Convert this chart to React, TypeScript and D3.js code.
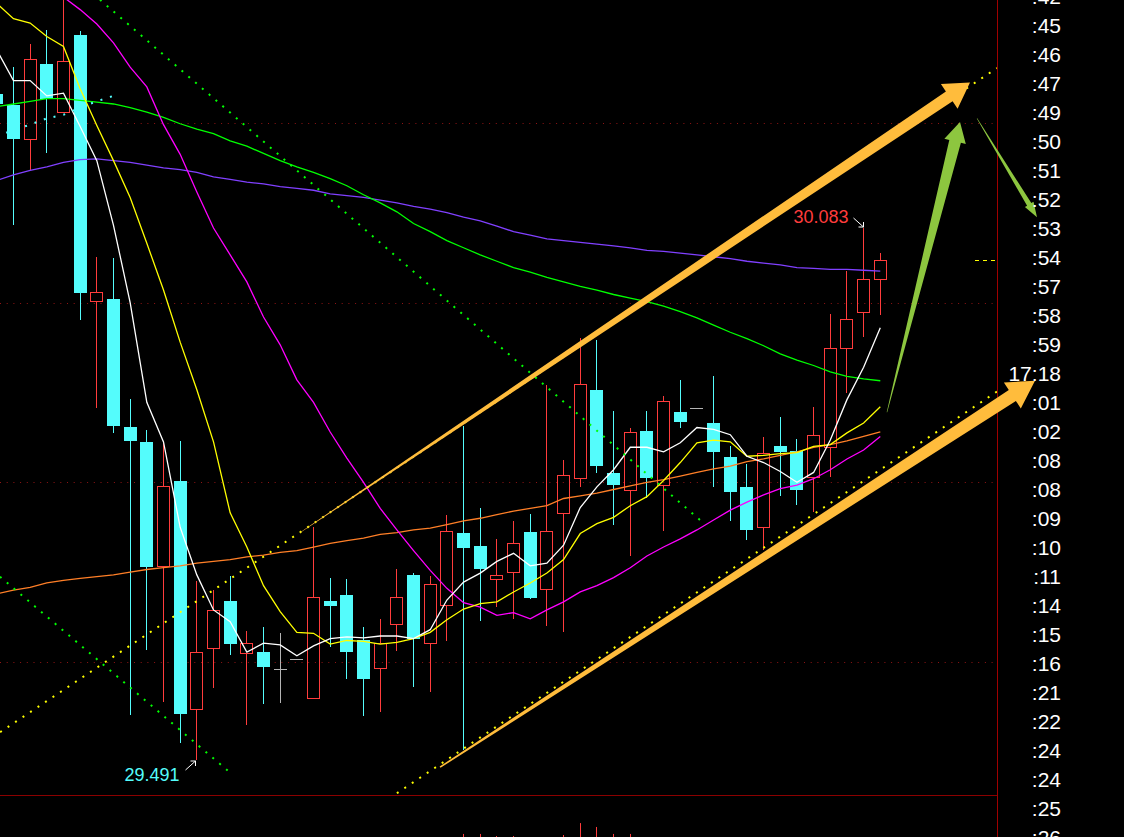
import React from 'react';
import * as d3 from 'd3';

const W = 1124;
const H = 837;

// ---- candle data (price) ----
const opens = [30.232,30.220,30.181,30.266,30.211,30.298,30.001,30.004,29.862,29.845,29.706,29.801,29.547,29.614,29.668,29.609,29.611,29.592,29.603,29.559,29.668,29.675,29.625,29.592,29.641,29.697,29.620,29.662,29.744,29.729,29.691,29.699,29.745,29.680,29.765,29.804,29.903,29.810,29.790,29.857,29.796,29.878,29.883,29.866,29.828,29.795,29.749,29.840,29.835,29.805,29.838,29.948,29.988,30.025];
const highs = [30.239,30.262,30.288,30.303,30.343,30.302,30.051,30.050,29.893,29.858,29.846,29.846,29.690,29.680,29.696,29.635,29.639,29.632,29.603,29.750,29.694,29.692,29.639,29.648,29.704,29.699,29.696,29.764,29.863,29.771,29.737,29.757,29.765,29.908,29.825,29.961,29.958,29.879,29.860,29.879,29.896,29.914,29.883,29.918,29.840,29.820,29.850,29.873,29.848,29.884,29.987,30.035,30.083,30.055];
const lows = [30.212,30.086,30.147,30.166,30.211,29.981,29.883,29.855,29.541,29.613,29.555,29.510,29.491,29.571,29.608,29.530,29.553,29.554,29.603,29.559,29.617,29.581,29.540,29.544,29.612,29.572,29.567,29.623,29.502,29.646,29.661,29.648,29.670,29.640,29.633,29.795,29.810,29.752,29.718,29.783,29.746,29.860,29.883,29.795,29.757,29.736,29.725,29.785,29.775,29.767,29.806,29.899,29.962,29.986];
const closes = [30.221,30.182,30.271,30.227,30.269,30.011,30.012,29.863,29.846,29.706,29.796,29.542,29.611,29.658,29.620,29.621,29.594,29.592,29.603,29.672,29.662,29.611,29.581,29.621,29.672,29.626,29.687,29.746,29.727,29.704,29.697,29.732,29.671,29.746,29.808,29.909,29.818,29.797,29.856,29.805,29.890,29.867,29.883,29.834,29.789,29.747,29.833,29.834,29.791,29.853,29.949,29.982,30.026,30.047];

// ---- moving averages (price) ----
const maWhite = [30.281,30.247,30.247,30.230,30.233,30.196,30.158,30.086,30.000,29.889,29.845,29.750,29.697,29.658,29.645,29.611,29.621,29.619,29.607,29.618,29.626,29.628,29.627,29.629,29.629,29.626,29.636,29.669,29.689,29.699,29.712,29.721,29.707,29.710,29.730,29.772,29.795,29.814,29.839,29.839,29.834,29.844,29.861,29.859,29.853,29.829,29.822,29.812,29.800,29.811,29.847,29.892,29.928,29.972];
const maYellow = [30.333,30.316,30.311,30.296,30.285,30.238,30.197,30.158,30.117,30.066,30.014,29.956,29.903,29.845,29.766,29.728,29.685,29.656,29.633,29.632,29.620,29.624,29.623,29.620,29.622,29.626,29.633,29.647,29.659,29.665,29.667,29.678,29.688,29.699,29.714,29.743,29.754,29.761,29.774,29.784,29.802,29.822,29.844,29.847,29.845,29.829,29.830,29.832,29.833,29.840,29.842,29.855,29.866,29.884];
const maMagenta = [null,null,null,30.354,30.340,30.326,30.310,30.289,30.262,30.240,30.198,30.165,30.123,30.083,30.053,30.023,29.984,29.953,29.914,29.889,29.856,29.827,29.800,29.771,29.747,29.724,29.702,29.682,29.666,29.661,29.652,29.655,29.648,29.658,29.667,29.678,29.685,29.694,29.705,29.718,29.728,29.737,29.747,29.758,29.769,29.778,29.786,29.793,29.797,29.804,29.814,29.826,29.836,29.851];
const maOrange = [29.676,29.680,29.683,29.688,29.691,29.693,29.695,29.697,29.700,29.703,29.705,29.707,29.710,29.712,29.714,29.717,29.719,29.722,29.724,29.728,29.732,29.735,29.738,29.742,29.744,29.747,29.749,29.753,29.757,29.760,29.764,29.768,29.771,29.774,29.782,29.785,29.788,29.792,29.796,29.800,29.803,29.807,29.811,29.815,29.818,29.823,29.826,29.830,29.834,29.839,29.842,29.846,29.851,29.856];
const maGreen = [30.218,30.221,30.224,30.227,30.227,30.225,30.223,30.221,30.217,30.212,30.206,30.199,30.193,30.188,30.180,30.174,30.166,30.158,30.151,30.145,30.138,30.130,30.120,30.111,30.101,30.088,30.079,30.069,30.061,30.053,30.046,30.039,30.034,30.028,30.023,30.018,30.014,30.009,30.005,30.001,29.996,29.990,29.983,29.975,29.967,29.960,29.952,29.943,29.936,29.930,29.923,29.918,29.915,29.913];
const maPurple = [30.136,30.142,30.147,30.151,30.156,30.159,30.160,30.158,30.156,30.153,30.150,30.148,30.145,30.140,30.137,30.134,30.132,30.129,30.127,30.125,30.121,30.119,30.117,30.114,30.111,30.107,30.104,30.100,30.095,30.091,30.085,30.079,30.075,30.071,30.069,30.067,30.065,30.063,30.061,30.058,30.057,30.055,30.053,30.051,30.049,30.046,30.044,30.042,30.039,30.038,30.037,30.037,30.036,30.035];
const maCyanDotted = [30.185,30.192,30.198,30.205,30.209,30.217,30.224,30.230];

// ---- lower panel values ----
const lowerIdx = [28,29,30,31,34,35,36,37,38];
const lowerVals = [81,81,80,80,80.5,86.3,84.4,81,81];

// ---- grid prices ----
const gridPrices = [30.2, 30.0, 29.8, 29.6];

// ---- range over which the extreme high/low are marked ----
const markFrom = 8;

// ---- drawn trend lines [index, price] ----
const yellowUpper = [[0.2, 29.522], [60.0, 30.261]];
const yellowLower = [[24.0, 29.454], [60.0, 29.901]];
const greenDotA = [[6.19, 30.337], [42.19, 29.758]];
const greenDotB = [[0.19, 29.695], [13.87, 29.479]];

// ---- drawn arrows [tail, tip] ----
const arrowOrangeUpper = [[18.19, 29.744], [58.38, 30.245]];
const arrowOrangeLower = [[26.59, 29.483], [62.28, 29.913]];
const arrowGreenBig = [[53.4, 29.878], [57.78, 30.201]];
const arrowGreenSmall = [[58.8, 30.205], [62.4, 30.095]];

// ---- time list ----
const timeLabels = [':42',':45',':46',':47',':49',':50',':51',':52',':53',':54',':57',':58',':59','17:18',':01',':02',':08',':08',':09',':10',':11',':14',':15',':16',':21',':22',':24',':24',':25',':26'];

const C_UP = '#ff3c3c';
const C_DN = '#54fcfc';
const C_DOJI = '#b4b4b4';
const FONT = "'Liberation Sans', Arial, sans-serif";

function arrowPoly(tail: number[], tip: number[], wt: number, ws: number, wh: number, hl: number) {
  const dx = tip[0] - tail[0], dy = tip[1] - tail[1];
  const len = Math.hypot(dx, dy);
  const ux = dx / len, uy = dy / len;
  const nx = -uy, ny = ux;
  const bx = tip[0] - ux * hl, by = tip[1] - uy * hl;
  const pts = [
    [tail[0] + nx * wt / 2, tail[1] + ny * wt / 2],
    [bx + nx * ws / 2, by + ny * ws / 2],
    [bx + nx * wh / 2, by + ny * wh / 2],
    [tip[0], tip[1]],
    [bx - nx * wh / 2, by - ny * wh / 2],
    [bx - nx * ws / 2, by - ny * ws / 2],
    [tail[0] - nx * wt / 2, tail[1] - ny * wt / 2],
  ];
  return 'M' + pts.map(p => p[0].toFixed(1) + ',' + p[1].toFixed(1)).join('L') + 'Z';
}

export default function App() {
  const x = d3.scaleLinear().domain([0, 53]).range([-3.2, 880.3]);
  const y = d3.scaleLinear().domain([29.491, 30.083]).range([760, 228]);
  const yLow = d3.scaleLinear().domain([0, 100]).range([1000, 795]);
  const yTime = d3.scaleLinear().domain([0, timeLabels.length - 1]).range([-3.5, 837.5]);

  const plotRight = 997;
  const sepY = 795;

  const line = d3.line<number | null>()
    .defined(d => d != null)
    .x((_, i) => x(i))
    .y(d => y(d as number));

  const seg = (pts: number[][]) => `M${x(pts[0][0])},${y(pts[0][1])}L${x(pts[1][0])},${y(pts[1][1])}`;
  const toPx = (p: number[]) => [x(p[0]), y(p[1])];

  const candles = opens.map((o, i) => {
    const c = closes[i], h = highs[i], l = lows[i];
    const cx = Math.floor(x(i));
    const wx = cx + 0.5;
    const left = cx - 6;
    const top = Math.round(y(Math.max(o, c)));
    const bot = Math.round(y(Math.min(o, c)));
    const yh = Math.round(y(h));
    const yl = Math.round(y(l));
    if (o === c) {
      return (
        <g key={i}>
          {yh < top && <line x1={wx} x2={wx} y1={yh} y2={yl} stroke={C_DOJI} />}
          <line x1={left} x2={left + 13} y1={top + 0.5} y2={top + 0.5} stroke={C_DOJI} />
        </g>
      );
    }
    if (c > o) {
      return (
        <g key={i}>
          <line x1={wx} x2={wx} y1={yh} y2={top} stroke={C_UP} />
          <line x1={wx} x2={wx} y1={bot} y2={yl} stroke={C_UP} />
          <rect x={left + 0.5} y={top + 0.5} width={12} height={Math.max(1, bot - top - 1)} fill="none" stroke={C_UP} />
        </g>
      );
    }
    return (
      <g key={i}>
        <line x1={wx} x2={wx} y1={yh} y2={yl} stroke={C_DN} />
        <rect x={left} y={top} width={13} height={Math.max(2, bot - top)} fill={C_DN} />
      </g>
    );
  });

  // extreme annotations over the marked range
  const iMax = (d3.maxIndex(highs.slice(markFrom)) as number) + markFrom;
  const iMin = (d3.minIndex(lows.slice(markFrom)) as number) + markFrom;
  const hx = Math.floor(x(iMax)) + 0.5, hy = Math.round(y(highs[iMax]));
  const lx = Math.floor(x(iMin)) + 0.5, ly = Math.round(y(lows[iMin]));

  const ou = arrowOrangeUpper.map(toPx);
  const ol = arrowOrangeLower.map(toPx);
  const gb = arrowGreenBig.map(toPx);
  const gs = arrowGreenSmall.map(toPx);

  const lastClose = closes[closes.length - 1];
  const maStyle = { fill: 'none', strokeWidth: 1.3 } as const;

  return (
    <div style={{ position: 'fixed', left: 0, top: 0, width: W, height: H, background: '#000' }}>
      <svg width={W} height={H} style={{ display: 'block', background: '#000' }}>
        <defs>
          <clipPath id="plot">
            <rect x={0} y={0} width={plotRight} height={sepY} />
          </clipPath>
        </defs>
        <g clipPath="url(#plot)">
          {gridPrices.map(p => (
            <line key={p} x1={0} x2={plotRight} y1={Math.round(y(p)) + 0.5} y2={Math.round(y(p)) + 0.5}
              stroke="#901414" strokeDasharray="1,5.7" />
          ))}
          {candles}
          <path d={line(maPurple) || ''} stroke="#8040ff" {...maStyle} />
          <path d={line(maGreen) || ''} stroke="#00ff00" {...maStyle} />
          <path d={line(maOrange) || ''} stroke="#ff7f27" {...maStyle} />
          <path d={line(maMagenta) || ''} stroke="#ff00ff" {...maStyle} />
          <path d={line(maYellow) || ''} stroke="#ffff00" {...maStyle} />
          <path d={line(maWhite) || ''} stroke="#ffffff" {...maStyle} />
          <path d={line(maCyanDotted) || ''} fill="none" stroke="#54fcfc" strokeWidth={2} strokeDasharray="2,8" />
          <path d={seg(greenDotA)} stroke="#00ff00" strokeWidth={2} strokeDasharray="2,7" fill="none" />
          <path d={seg(greenDotB)} stroke="#00ff00" strokeWidth={2} strokeDasharray="2,7" fill="none" />
          <path d={seg(yellowUpper)} stroke="#ffff00" strokeWidth={2} strokeDasharray="2,7" fill="none" />
          <path d={seg(yellowLower)} stroke="#ffff00" strokeWidth={2} strokeDasharray="2,7" fill="none" />
          <line x1={975} x2={plotRight} y1={Math.round(y(lastClose)) + 0.5} y2={Math.round(y(lastClose)) + 0.5}
            stroke="#ffff00" strokeDasharray="4,4" />
        </g>

        {/* lower panel */}
        {lowerIdx.map((idx, k) => (
          <line key={idx} x1={Math.floor(x(idx)) + 0.5} x2={Math.floor(x(idx)) + 0.5}
            y1={yLow(lowerVals[k])} y2={H} stroke={C_UP} />
        ))}
        <line x1={0} x2={plotRight} y1={sepY + 0.5} y2={sepY + 0.5} stroke="#8b0000" />
        <line x1={plotRight + 0.5} x2={plotRight + 0.5} y1={0} y2={H} stroke="#a00000" />

        {/* drawn arrows */}
        <path d={arrowPoly(ou[0], ou[1], 0.5, 12, 30, 25)} fill="#ffbc3c" />
        <path d={arrowPoly(ol[0], ol[1], 1.5, 13, 31, 27)} fill="#ffbc3c" />
        <path d={arrowPoly(gb[0], gb[1], 0.5, 12, 22, 20)} fill="#8dc63f" />
        <path d={arrowPoly(gs[0], gs[1], 0.5, 5, 10, 15)} fill="#8dc63f" />

        {/* extreme labels */}
        <text x={hx - 15} y={hy - 5} fill={C_UP} fontSize={18} textAnchor="end" fontFamily={FONT}>
          {highs[iMax].toFixed(3)}
        </text>
        <g stroke="#fff" strokeWidth={1} fill="none">
          <line x1={hx - 10} y1={hy - 10} x2={hx} y2={hy - 1} />
          <line x1={hx} y1={hy - 1} x2={hx - 5} y2={hy - 1} />
          <line x1={hx} y1={hy - 1} x2={hx} y2={hy - 6} />
        </g>
        <text x={lx - 17} y={ly + 21} fill={C_DN} fontSize={18} textAnchor="end" fontFamily={FONT}>
          {lows[iMin].toFixed(3)}
        </text>
        <g stroke="#fff" strokeWidth={1} fill="none">
          <line x1={lx - 11} y1={ly + 10} x2={lx - 1} y2={ly + 1} />
          <line x1={lx - 1} y1={ly + 1} x2={lx - 6} y2={ly + 1} />
          <line x1={lx - 1} y1={ly + 1} x2={lx - 1} y2={ly + 6} />
        </g>

        {/* time column */}
        {timeLabels.map((t, k) => (
          <text key={k} x={1061} y={yTime(k)} dy="0.36em" fill="#fff" fontSize={21} textAnchor="end" fontFamily={FONT}>
            {t}
          </text>
        ))}
      </svg>
    </div>
  );
}
